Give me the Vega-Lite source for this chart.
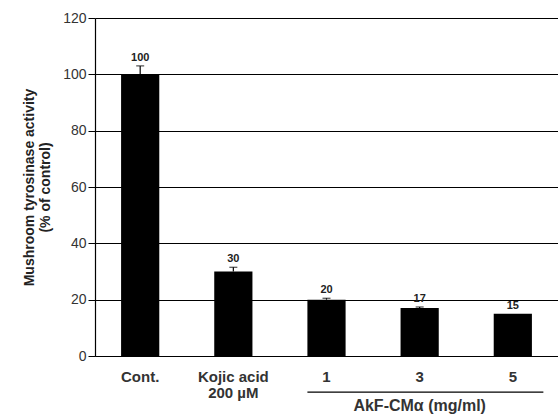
{
  "$schema": "https://vega.github.io/schema/vega-lite/v6.json",
  "width": 463,
  "height": 338,
  "autosize": {"type": "none"},
  "padding": {"left": 95, "top": 18, "right": 0, "bottom": 60},
  "background": "white",
  "config": {
    "view": {"stroke": null},
    "font": "Liberation Sans"
  },
  "data": {
    "values": [
      {"group": "Cont.", "value": 100, "err": 3, "label": "100"},
      {"group": "Kojic acid|200 µM", "value": 30, "err": 1.5, "label": "30"},
      {"group": "1", "value": 20, "err": 0.5, "label": "20"},
      {"group": "3", "value": 17, "err": 0.4, "label": "17"},
      {"group": "5", "value": 15, "err": 0, "label": "15"}
    ]
  },
  "encoding": {
    "x": {
      "field": "group",
      "type": "nominal",
      "sort": null,
      "scale": {"paddingInner": 0.59, "paddingOuter": 0.28},
      "axis": {
        "title": null,
        "labelAngle": 0,
        "labelExpr": "split(datum.label, '|')",
        "labelFont": "Liberation Sans",
        "labelFontSize": 15,
        "labelFontWeight": "bold",
        "labelColor": "#333333",
        "labelPadding": 13,
        "labelLineHeight": 16,
        "ticks": false,
        "domainColor": "black",
        "domainWidth": 1.2
      }
    }
  },
  "layer": [
    {
      "mark": {"type": "bar", "color": "black"},
      "encoding": {
        "y": {
          "field": "value",
          "type": "quantitative",
          "scale": {"domain": [0, 120], "nice": false},
          "axis": {
            "values": [0, 20, 40, 60, 80, 100, 120],
            "title": ["Mushroom tyrosinase activity", "(% of control)"],
            "titleFont": "Liberation Sans",
            "titleFontSize": 14,
            "titleFontWeight": "bold",
            "titleColor": "#222222",
            "titleLineHeight": 16,
            "titlePadding": 10,
            "labelFont": "Liberation Sans",
            "labelFontSize": 14,
            "labelColor": "#333333",
            "labelPadding": 2,
            "tickSize": 7,
            "tickColor": "black",
            "domainColor": "black",
            "domainWidth": 1.2,
            "grid": true,
            "gridColor": "black",
            "gridWidth": 1,
            "gridOpacity": 1
          }
        }
      }
    },
    {
      "mark": {"type": "rule", "color": "black", "strokeWidth": 1.2},
      "encoding": {
        "y": {"field": "value", "type": "quantitative"},
        "y2": {"field": "top"}
      },
      "transform": [{"filter": "datum.err > 0"}, {"calculate": "datum.value + datum.err", "as": "top"}]
    },
    {
      "mark": {"type": "tick", "color": "black", "size": 8, "thickness": 1.2, "orient": "horizontal"},
      "encoding": {
        "y": {"field": "top", "type": "quantitative"}
      },
      "transform": [{"filter": "datum.err > 0"}, {"calculate": "datum.value + datum.err", "as": "top"}]
    },
    {
      "mark": {"type": "text", "baseline": "bottom", "dy": -3, "fontSize": 11, "fontWeight": "bold", "color": "#222222", "font": "Liberation Sans"},
      "encoding": {
        "y": {"field": "top", "type": "quantitative"},
        "text": {"field": "label"}
      },
      "transform": [{"calculate": "datum.value + datum.err", "as": "top"}]
    },
    {
      "data": {"values": [{"start": "1", "end": "5", "pos": -12.8}]},
      "mark": {"type": "rule", "color": "black", "strokeWidth": 1.2, "clip": false},
      "encoding": {
        "x": {"field": "start", "type": "nominal", "bandPosition": 0},
        "x2": {"field": "end", "bandPosition": 1.3},
        "y": {"field": "pos", "type": "quantitative"}
      }
    },
    {
      "data": {"values": [{"mid": "3", "pos": -17.6, "text": "AkF-CMα (mg/ml)"}]},
      "mark": {"type": "text", "baseline": "middle", "fontSize": 16, "fontWeight": "bold", "color": "#333333", "font": "Liberation Sans", "clip": false},
      "encoding": {
        "x": {"field": "mid", "type": "nominal"},
        "y": {"field": "pos", "type": "quantitative"},
        "text": {"field": "text"}
      }
    }
  ]
}
